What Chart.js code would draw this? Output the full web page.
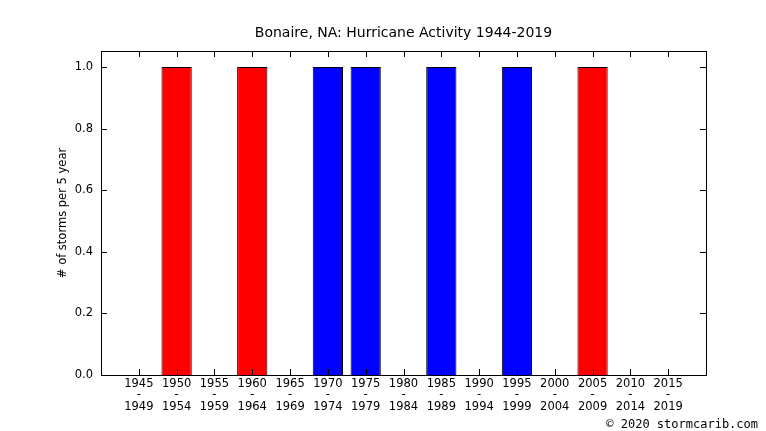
<!DOCTYPE html>
<html>
<head>
  <meta charset="utf-8">
  <title>Bonaire Hurricane Activity</title>
  <style>
    body { margin: 0; background: #fff; font-family: 'DejaVu Sans', sans-serif; }
    #wrap { position: relative; width: 766px; height: 431px; }
    #title { position: absolute; top: 24px; left: 101px; width: 605px; text-align: center; font-size: 14px; color: #000; }
    #foot { position: absolute; top: 417px; right: 8px; font-family: 'DejaVu Sans Mono', monospace; font-size: 12px; color: #000; }
  </style>
</head>
<body>
  <div id="wrap">
    <canvas id="chart" width="766" height="431"></canvas>
    <div id="title">Bonaire, NA: Hurricane Activity 1944-2019</div>
    <div id="foot">© 2020 stormcarib.com</div>
  </div>
  <script src="https://cdn.jsdelivr.net/npm/chart.js"></script>
  <script>
    const periodStarts = ["1945","1950","1955","1960","1965","1970","1975","1980","1985","1990","1995","2000","2005","2010","2015"];
    const periodEnds   = ["1949","1954","1959","1964","1969","1974","1979","1984","1989","1994","1999","2004","2009","2014","2019"];
    const stormCounts  = [0, 1, 0, 1, 0, 1, 1, 0, 1, 0, 1, 0, 1, 0, 0];
    const barColors    = ["red","red","red","red","red","blue","blue","red","blue","red","blue","red","red","red","red"];
    const yTicks       = [0, 0.2, 0.4, 0.6, 0.8, 1.0];

    // inward tick marks on all four sides, gnuplot style
    const tickMarks = {
      id: 'tickMarks',
      afterDraw(chart) {
        const { ctx, chartArea: a, scales: { x, y } } = chart;
        ctx.save();
        ctx.strokeStyle = '#000';
        ctx.lineWidth = 1;
        ctx.beginPath();
        for (const v of yTicks) {
          const py = Math.round(y.getPixelForValue(v)) + 0.5;
          ctx.moveTo(a.left, py); ctx.lineTo(a.left + 6, py);
          ctx.moveTo(a.right, py); ctx.lineTo(a.right - 6, py);
        }
        for (let i = 1; i <= periodStarts.length; i++) {
          const px = Math.round(x.getPixelForValue(i)) + 0.5;
          ctx.moveTo(px, a.bottom); ctx.lineTo(px, a.bottom - 6);
          ctx.moveTo(px, a.top); ctx.lineTo(px, a.top + 6);
        }
        ctx.stroke();
        ctx.restore();
      }
    };

    new Chart(document.getElementById('chart'), {
      type: 'bar',
      data: {
        datasets: [{
          data: stormCounts.map((v, i) => ({ x: i + 1, y: v })),
          backgroundColor: barColors,
          borderColor: '#000',
          borderWidth: 1,
          barPercentage: 0.8,
          categoryPercentage: 1
        }]
      },
      options: {
        responsive: false,
        animation: false,
        layout: { padding: { top: 51, right: 60, left: 56, bottom: 0 } },
        plugins: { legend: { display: false }, tooltip: { enabled: false } },
        scales: {
          x: {
            type: 'linear', min: 0, max: 16, offset: false,
            grid: { display: false, drawTicks: false },
            border: { color: '#000' },
            afterFit: s => { s.height = 56; },
            ticks: {
              stepSize: 1, autoSkip: false, maxRotation: 0, color: '#000', padding: 3,
              font: { family: 'DejaVu Sans', size: 11.5, lineHeight: 1.0 },
              callback: v => (v >= 1 && v <= periodStarts.length) ? [periodStarts[v - 1], '-', periodEnds[v - 1]] : ''
            }
          },
          y: {
            min: 0, max: 1.052,
            grid: { display: false, drawTicks: false },
            border: { color: '#000' },
            afterFit: s => { s.width = 45; },
            afterBuildTicks: s => { s.ticks = yTicks.map(v => ({ value: v })); },
            ticks: { color: '#000', padding: 8, font: { family: 'DejaVu Sans', size: 11.5 }, callback: v => v.toFixed(1) },
            title: { display: true, text: '# of storms per 5 year', color: '#000', padding: 0, font: { family: 'DejaVu Sans', size: 11.5 } }
          }
        }
      },
      plugins: [tickMarks, {
        id: 'frame',
        afterDraw(chart) {
          const { ctx, chartArea: a } = chart;
          ctx.save(); ctx.strokeStyle = '#000'; ctx.lineWidth = 1;
          ctx.strokeRect(Math.round(a.left) + 0.5, Math.round(a.top) + 0.5, Math.round(a.right - a.left), Math.round(a.bottom - a.top));
          ctx.restore();
        }
      }]
    });
  </script>
</body>
</html>
